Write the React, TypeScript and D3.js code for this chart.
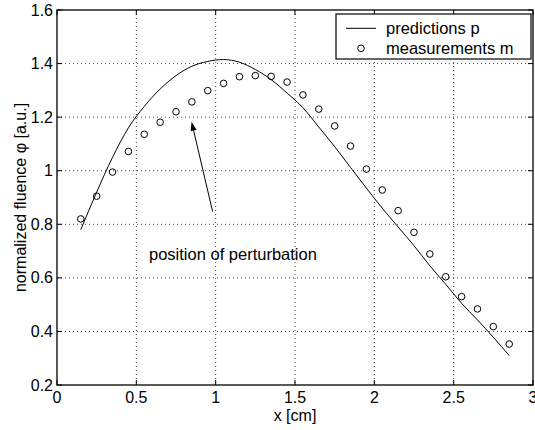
import React from "react";
import * as d3 from "d3";

const measX = [0.15, 0.25, 0.35, 0.45, 0.55, 0.65, 0.75, 0.85, 0.95, 1.05, 1.15, 1.25, 1.35, 1.45, 1.55, 1.65, 1.75, 1.85, 1.95, 2.05, 2.15, 2.25, 2.35, 2.45, 2.55, 2.65, 2.75, 2.85];
const measurements = [0.82, 0.905, 0.995, 1.072, 1.136, 1.181, 1.22, 1.257, 1.299, 1.326, 1.351, 1.355, 1.352, 1.331, 1.283, 1.23, 1.167, 1.092, 1.006, 0.928, 0.851, 0.77, 0.689, 0.604, 0.53, 0.484, 0.418, 0.353];
const predictions = [0.78, 0.92, 1.05, 1.16, 1.24, 1.305, 1.355, 1.39, 1.408, 1.415, 1.405, 1.378, 1.34, 1.29, 1.235, 1.163, 1.09, 1.012, 0.935, 0.86, 0.79, 0.72, 0.645, 0.576, 0.505, 0.443, 0.378, 0.31];

const xTicks = [0, 0.5, 1, 1.5, 2, 2.5, 3];
const yTicks = [0.2, 0.4, 0.6, 0.8, 1, 1.2, 1.4, 1.6];
const xTickLabels = ["0", "0.5", "1", "1.5", "2", "2.5", "3"];
const yTickLabels = ["0.2", "0.4", "0.6", "0.8", "1", "1.2", "1.4", "1.6"];

const arrowTip = [0.848, 1.183];
const arrowTail = [0.981, 0.847];
const annotation = { x: 0.58, y: 0.667, text: "position of perturbation" };
const legendLabels = ["predictions p", "measurements m"];

const W = 535, H = 430;
const L = 57, R = 533, T = 10, B = 385;
const font = "'Liberation Sans', Arial, Helvetica, sans-serif";

export default function App() {
  const x = d3.scaleLinear().domain([0, 3]).range([L, R]);
  const y = d3.scaleLinear().domain([0.2, 1.6]).range([B, T]);
  const line = d3.line<number>().x((_, i) => x(measX[i])).y((d) => y(d)).curve(d3.curveMonotoneX);

  const tx = x(arrowTip[0]), ty = y(arrowTip[1]);
  const sx = x(arrowTail[0]), sy = y(arrowTail[1]);
  const ang = Math.atan2(ty - sy, tx - sx);
  const ah = 9, aw = 3;
  const bx = tx - ah * Math.cos(ang), by = ty - ah * Math.sin(ang);
  const head = `M${tx},${ty}L${bx + aw * Math.sin(ang)},${by - aw * Math.cos(ang)}L${bx - aw * Math.sin(ang)},${by + aw * Math.cos(ang)}Z`;

  return (
    <svg width={W} height={H} style={{ position: "absolute", left: 0, top: 0, background: "#fff" }} fontFamily={font}>
      <rect x={0} y={0} width={W} height={H} fill="#fff" />
      {/* grid */}
      {xTicks.slice(1, -1).map((t) => (
        <line key={"gx" + t} x1={x(t)} x2={x(t)} y1={T} y2={B} stroke="#444" strokeWidth={1} strokeDasharray="1,3" />
      ))}
      {yTicks.slice(1, -1).map((t) => (
        <line key={"gy" + t} x1={L} x2={R} y1={y(t)} y2={y(t)} stroke="#444" strokeWidth={1} strokeDasharray="1,3" />
      ))}
      {/* ticks */}
      {xTicks.map((t) => (
        <g key={"tx" + t}>
          <line x1={x(t)} x2={x(t)} y1={B} y2={B - 5} stroke="#000" />
          <line x1={x(t)} x2={x(t)} y1={T} y2={T + 5} stroke="#000" />
        </g>
      ))}
      {yTicks.map((t) => (
        <g key={"ty" + t}>
          <line x1={L} x2={L + 5} y1={y(t)} y2={y(t)} stroke="#000" />
          <line x1={R} x2={R - 5} y1={y(t)} y2={y(t)} stroke="#000" />
        </g>
      ))}
      {/* frame */}
      <rect x={L} y={T} width={R - L} height={B - T} fill="none" stroke="#000" strokeWidth={1.3} />
      {/* tick labels */}
      {xTicks.map((t, i) => (
        <text key={"lx" + t} x={x(t)} y={403} fontSize={16} textAnchor="middle">{xTickLabels[i]}</text>
      ))}
      {yTicks.map((t, i) => (
        <text key={"ly" + t} x={53} y={y(t) + 5.5} fontSize={16} textAnchor="end">{yTickLabels[i]}</text>
      ))}
      <text x={(L + R) / 2} y={421} fontSize={16} textAnchor="middle">x [cm]</text>
      <text transform={`translate(26,${(T + B) / 2}) rotate(-90)`} fontSize={16} textAnchor="middle">normalized fluence φ [a.u.]</text>
      {/* data */}
      <path d={line(predictions) || ""} fill="none" stroke="#000" strokeWidth={1} />
      {measurements.map((v, i) => (
        <circle key={"m" + i} cx={x(measX[i])} cy={y(v)} r={3.3} fill="none" stroke="#000" strokeWidth={1} />
      ))}
      {/* annotation */}
      <line x1={sx} y1={sy} x2={bx} y2={by} stroke="#000" strokeWidth={1} />
      <path d={head} fill="#000" />
      <text x={x(annotation.x)} y={y(annotation.y)} fontSize={16.5}>{annotation.text}</text>
      {/* legend */}
      <rect x={336} y={14} width={195} height={45} fill="#fff" stroke="#000" strokeWidth={1.2} />
      <line x1={346} x2={376} y1={28.3} y2={28.3} stroke="#000" />
      <circle cx={361} cy={48.3} r={3.3} fill="none" stroke="#000" />
      <text x={386} y={33.5} fontSize={16.5}>{legendLabels[0]}</text>
      <text x={386} y={53.5} fontSize={16.5}>{legendLabels[1]}</text>
    </svg>
  );
}
